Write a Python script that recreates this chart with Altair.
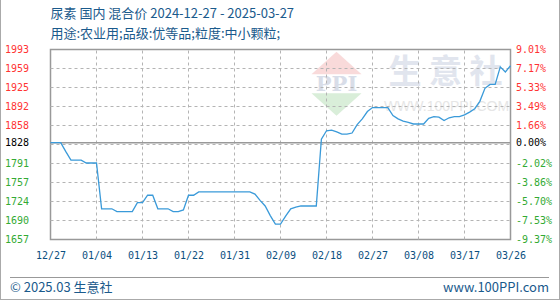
import json
import altair as alt
import pandas as pd

# ---------------- data ----------------
base_price = 1828
prices = [
    1828, 1828, 1828, 1812, 1797, 1797, 1797, 1792, 1792, 1792,
    1711, 1711, 1711, 1706, 1706, 1706, 1706, 1722, 1722, 1735,
    1735, 1711, 1711, 1711, 1706, 1706, 1709, 1735, 1735, 1741,
    1741, 1741, 1741, 1741, 1741, 1741, 1741, 1741, 1741, 1741,
    1737, 1726, 1716, 1699, 1684, 1684, 1698, 1711, 1714, 1716,
    1716, 1716, 1716, 1834, 1849, 1850, 1847, 1843, 1843, 1845,
    1860, 1870, 1883, 1890, 1890, 1890, 1890, 1876, 1870, 1866,
    1864, 1861, 1861, 1861, 1871, 1874, 1873, 1867, 1872, 1874,
    1874, 1877, 1882, 1888, 1901, 1924, 1931, 1931, 1962, 1953,
    1964,
]
x_label_idx = [0, 9, 18, 27, 36, 45, 54, 63, 72, 81, 90]
x_labels = ["12/27", "01/04", "01/13", "01/22", "01/31", "02/09",
            "02/18", "02/27", "03/08", "03/17", "03/26"]
y_tick_pct = [9.01, 7.17, 5.33, 3.49, 1.66, 0.00, -2.02, -3.86, -5.70, -7.53, -9.37]
y_left_labels = ["1993", "1959", "1925", "1892", "1858", "1828",
                 "1791", "1757", "1724", "1690", "1657"]
y_right_labels = ["9.01%", "7.17%", "5.33%", "3.49%", "1.66%", "0.00%",
                  "-2.02%", "-3.86%", "-5.70%", "-7.53%", "-9.37%"]
title_line1 = "尿素 国内 混合价 2024-12-27 - 2025-03-27"
title_line2 = "用途:农业用;品级:优等品;粒度:中小颗粒;"
footer_left = "© 2025.03 生意社"
footer_right = "www.100PPI.com"

y_top, y_bottom = 9.01, -9.37
x_min, x_max = 0, 90
grid_pct = [y_top - k * (y_top - y_bottom) / 10 for k in range(1, 10)]
vgrid_idx = x_label_idx[1:-1]

W, H = 460, 190
RED, GREEN, BLACK = "#ff3333", "#33aa33", "#000000"
BLUE_TXT = "#1a5a8c"
MONO = "DejaVu Sans Mono"
CJK = "Noto Sans CJK SC"
GRID = "#b4b4b4"
DASH_PX, GAP_PX = 3, 3


def segments(lo, hi, px_len):
    unit = (hi - lo) / px_len
    out, p = [], 0.0
    while p < px_len:
        out.append((lo + p * unit, lo + min(p + DASH_PX, px_len) * unit))
        p += DASH_PX + GAP_PX
    return out


h_rows = [{"v": v, "s0": a, "s1": b} for v in grid_pct for a, b in segments(x_min, x_max, W)]
v_rows = [{"i": i, "s0": a, "s1": b} for i in vgrid_idx for a, b in segments(y_bottom, y_top, H)]

df = pd.DataFrame({"idx": list(range(len(prices))), "price": prices})
hdash_df = pd.DataFrame(h_rows)
vdash_df = pd.DataFrame(v_rows)
one = pd.DataFrame({"a": [0]})

xscale = alt.Scale(domain=[x_min, x_max], nice=False, zero=False)
yscale = alt.Scale(domain=[y_bottom, y_top], nice=False, zero=False)

color_cond = {
    "condition": [
        {"test": "datum.value > 0.001", "value": RED},
        {"test": "datum.value < -0.001", "value": GREEN},
    ],
    "value": BLACK,
}

left_axis = alt.Axis(
    orient="left", values=y_tick_pct,
    labelExpr=f"{json.dumps(y_left_labels)}[indexof({json.dumps(y_tick_pct)}, datum.value)]",
    grid=False, ticks=False, tickSize=0, domain=False, title=None,
    labelFont=MONO, labelFontSize=10, labelPadding=22, labelColor=color_cond,
    labelFlush=False, labelOverlap=False,
)
right_axis = alt.Axis(
    orient="right", values=y_tick_pct,
    labelExpr=f"{json.dumps(y_right_labels)}[indexof({json.dumps(y_tick_pct)}, datum.value)]",
    grid=False, ticks=False, tickSize=0, domain=False, title=None,
    labelFont=MONO, labelFontSize=10, labelPadding=5, labelColor=color_cond,
    labelFlush=False, labelOverlap=False,
)
x_axis = alt.Axis(
    values=x_label_idx,
    labelExpr=f"{json.dumps(x_labels)}[indexof({json.dumps(x_label_idx)}, datum.value)]",
    grid=False, ticks=False, tickSize=0, domain=False, title=None,
    labelFont=MONO, labelFontSize=10, labelPadding=11, labelColor="#0b4f80",
    labelFlush=False, labelOverlap=False,
)

# ---------------- watermark ----------------
wm_big = alt.Chart(one).mark_text(
    text="生 意 社", font=CJK, fontSize=33, fontWeight="bold", color="#e1e5ee",
    align="center", baseline="middle",
).encode(x=alt.value(395), y=alt.value(23))
wm_url = alt.Chart(one).mark_text(
    text="WWW.100PPI.COM", font="Liberation Sans", fontSize=14, color="#e6e6e6",
    align="center", baseline="middle",
).encode(x=alt.value(396), y=alt.value(57.5))
wm_tri_up = alt.Chart(one).mark_point(
    shape="M-1,0.45L0,-0.45L1,0.45Z", filled=True, size=2500, color="#f9dada", opacity=1,
).encode(x=alt.value(286), y=alt.value(13.5))
wm_tri_dn = alt.Chart(one).mark_point(
    shape="M-1,-0.45L1,-0.45L0,0.45Z", filled=True, size=2500, color="#d9eed9", opacity=1,
).encode(x=alt.value(286), y=alt.value(55))
wm_ppi = alt.Chart(one).mark_text(
    text="PPI", font="DejaVu Serif", fontSize=21, fontWeight="bold", color="#d8dde8",
    align="center", baseline="middle",
).encode(x=alt.value(286), y=alt.value(35.5))

# ---------------- grid (dashes as short solid segments) ----------------
hgrid = alt.Chart(hdash_df).mark_rule(color=GRID, strokeWidth=1, opacity=1).encode(
    x=alt.X("s0:Q", scale=xscale, axis=x_axis),
    x2="s1:Q",
    y=alt.Y("v:Q", scale=yscale, axis=right_axis),
)
vgrid = alt.Chart(vdash_df).mark_rule(color=GRID, strokeWidth=1, opacity=1).encode(
    x=alt.X("i:Q", scale=xscale, axis=x_axis),
    y=alt.Y("s0:Q", scale=yscale, axis=None),
    y2="s1:Q",
)
zero_line = alt.Chart(one).mark_rule(color="#999999", strokeWidth=1.5).encode(
    y=alt.Y("a:Q", scale=yscale, axis=None)
)

# ---------------- series ----------------
line = alt.Chart(df).transform_calculate(
    pct=f"(datum.price / {base_price} - 1) * 100"
).mark_line(color="#3a9ad9", strokeWidth=1.3).encode(
    x=alt.X("idx:Q", scale=xscale, axis=x_axis),
    y=alt.Y("pct:Q", scale=yscale, axis=left_axis),
)

# ---------------- texts & frame ----------------
t1 = alt.Chart(one).mark_text(
    text=title_line1, font=CJK, fontSize=13, color=BLUE_TXT, align="left", baseline="middle",
).encode(x=alt.value(0), y=alt.value(-35.5))
t2 = alt.Chart(one).mark_text(
    text=title_line2, font=CJK, fontSize=13, color=BLUE_TXT, align="left", baseline="middle",
).encode(x=alt.value(0), y=alt.value(-16))
f1 = alt.Chart(one).mark_text(
    text=footer_left, font=CJK, fontSize=13, color=BLUE_TXT, align="left", baseline="middle",
).encode(x=alt.value(-40.5), y=alt.value(238.5))
f2 = alt.Chart(one).mark_text(
    text=footer_right, font=CJK, fontSize=13, color=BLUE_TXT, align="right", baseline="middle",
).encode(x=alt.value(498.5), y=alt.value(238.5))
footer_rule = alt.Chart(one).mark_rule(color="#999999", strokeWidth=1).encode(
    x=alt.value(-40.5), x2=alt.value(498.5), y=alt.value(228)
)
border_l = alt.Chart(one).mark_rule(color="#aaaaaa", strokeWidth=1).encode(
    x=alt.value(-50), y=alt.value(-49.5), y2=alt.value(250.5)
)
border_r = alt.Chart(one).mark_rule(color="#aaaaaa", strokeWidth=1).encode(
    x=alt.value(509), y=alt.value(-49.5), y2=alt.value(250.5)
)
border_b = alt.Chart(one).mark_rule(color="#aaaaaa", strokeWidth=1).encode(
    x=alt.value(-50.5), x2=alt.value(509.5), y=alt.value(250)
)

chart = alt.layer(
    wm_tri_up, wm_tri_dn, wm_ppi, wm_big, wm_url,
    hgrid, vgrid, zero_line, line,
    t1, t2, f1, f2, footer_rule, border_l, border_r, border_b,
).resolve_scale(y="independent").properties(
    width=W, height=H,
    padding={"left": 50.5, "top": 49.5, "right": 49.5, "bottom": 60.5},
    autosize="none",
    background="white",
).configure_view(stroke="#999999", strokeWidth=1.5)

chart.save("out.html", embed_options={"renderer": "svg", "actions": False})
